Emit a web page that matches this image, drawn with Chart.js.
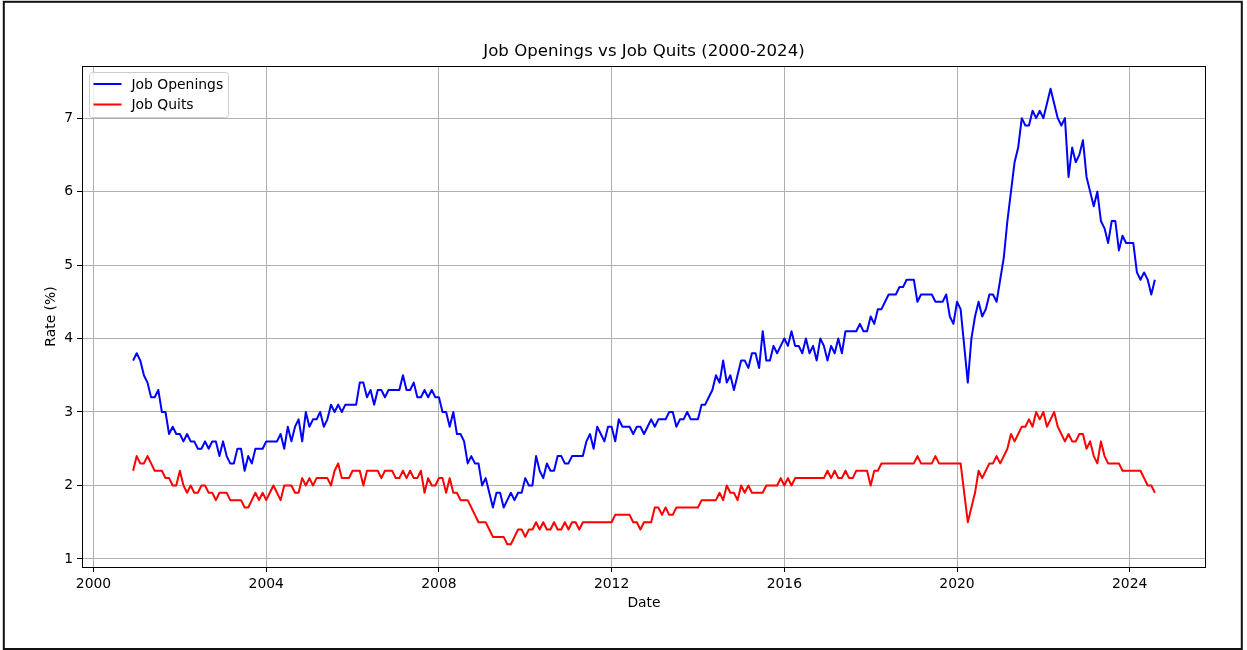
<!DOCTYPE html>
<html><head><meta charset="utf-8">
<script src="https://cdn.jsdelivr.net/npm/chart.js@4.4.1/dist/chart.umd.min.js"></script>
<style>html,body{margin:0;padding:0;background:#fff;overflow:hidden}canvas{display:block}</style>
</head><body>
<canvas id="c" width="1247" height="650" style="width:1247px;height:650px"></canvas>
<script>
// Monthly series, first value = December 2000, last value = August 2024
const startYear = 2000;
const startMonth = 12;
const jobOpenings = [
3.7,3.8,3.7,3.5,3.4,3.2,3.2,3.3,3.0,3.0,2.7,2.8,
2.7,2.7,2.6,2.7,2.6,2.6,2.5,2.5,2.6,2.5,2.6,2.6,
2.4,2.6,2.4,2.3,2.3,2.5,2.5,2.2,2.4,2.3,2.5,2.5,
2.5,2.6,2.6,2.6,2.6,2.7,2.5,2.8,2.6,2.8,2.9,2.6,
3.0,2.8,2.9,2.9,3.0,2.8,2.9,3.1,3.0,3.1,3.0,3.1,
3.1,3.1,3.1,3.4,3.4,3.2,3.3,3.1,3.3,3.3,3.2,3.3,
3.3,3.3,3.3,3.5,3.3,3.3,3.4,3.2,3.2,3.3,3.2,3.3,
3.2,3.2,3.0,3.0,2.8,3.0,2.7,2.7,2.6,2.3,2.4,2.3,
2.3,2.0,2.1,1.9,1.7,1.9,1.9,1.7,1.8,1.9,1.8,1.9,
1.9,2.1,2.0,2.0,2.4,2.2,2.1,2.3,2.2,2.2,2.4,2.4,
2.3,2.3,2.4,2.4,2.4,2.4,2.6,2.7,2.5,2.8,2.7,2.6,
2.8,2.8,2.6,2.9,2.8,2.8,2.8,2.7,2.8,2.8,2.7,2.8,
2.9,2.8,2.9,2.9,2.9,3.0,3.0,2.8,2.9,2.9,3.0,2.9,
2.9,2.9,3.1,3.1,3.2,3.3,3.5,3.4,3.7,3.4,3.5,3.3,
3.5,3.7,3.7,3.6,3.8,3.8,3.6,4.1,3.7,3.7,3.9,3.8,
3.9,4.0,3.9,4.1,3.9,3.9,3.8,4.0,3.8,3.9,3.7,4.0,
3.9,3.7,3.9,3.8,4.0,3.8,4.1,4.1,4.1,4.1,4.2,4.1,
4.1,4.3,4.2,4.4,4.4,4.5,4.6,4.6,4.6,4.7,4.7,4.8,
4.8,4.8,4.5,4.6,4.6,4.6,4.6,4.5,4.5,4.5,4.6,4.3,
4.2,4.5,4.4,3.9,3.4,4.0,4.3,4.5,4.3,4.4,4.6,4.6,
4.5,4.8,5.1,5.6,6.0,6.4,6.6,7.0,6.9,6.9,7.1,7.0,
7.1,7.0,7.2,7.4,7.2,7.0,6.9,7.0,6.2,6.6,6.4,6.5,
6.7,6.2,6.0,5.8,6.0,5.6,5.5,5.3,5.6,5.6,5.2,5.4,
5.3,5.3,5.3,4.9,4.8,4.9,4.8,4.6,4.8
];
const jobQuits = [
2.2,2.4,2.3,2.3,2.4,2.3,2.2,2.2,2.2,2.1,2.1,2.0,
2.0,2.2,2.0,1.9,2.0,1.9,1.9,2.0,2.0,1.9,1.9,1.8,
1.9,1.9,1.9,1.8,1.8,1.8,1.8,1.7,1.7,1.8,1.9,1.8,
1.9,1.8,1.9,2.0,1.9,1.8,2.0,2.0,2.0,1.9,1.9,2.1,
2.0,2.1,2.0,2.1,2.1,2.1,2.1,2.0,2.2,2.3,2.1,2.1,
2.1,2.2,2.2,2.2,2.0,2.2,2.2,2.2,2.2,2.1,2.2,2.2,
2.2,2.1,2.1,2.2,2.1,2.2,2.1,2.1,2.2,1.9,2.1,2.0,
2.0,2.1,2.1,1.9,2.1,1.9,1.9,1.8,1.8,1.8,1.7,1.6,
1.5,1.5,1.5,1.4,1.3,1.3,1.3,1.3,1.2,1.2,1.3,1.4,
1.4,1.3,1.4,1.4,1.5,1.4,1.5,1.4,1.4,1.5,1.4,1.4,
1.5,1.4,1.5,1.5,1.4,1.5,1.5,1.5,1.5,1.5,1.5,1.5,
1.5,1.5,1.6,1.6,1.6,1.6,1.6,1.5,1.5,1.4,1.5,1.5,
1.5,1.7,1.7,1.6,1.7,1.6,1.6,1.7,1.7,1.7,1.7,1.7,
1.7,1.7,1.8,1.8,1.8,1.8,1.8,1.9,1.8,2.0,1.9,1.9,
1.8,2.0,1.9,2.0,1.9,1.9,1.9,1.9,2.0,2.0,2.0,2.0,
2.1,2.0,2.1,2.0,2.1,2.1,2.1,2.1,2.1,2.1,2.1,2.1,
2.1,2.2,2.1,2.2,2.1,2.1,2.2,2.1,2.1,2.2,2.2,2.2,
2.2,2.0,2.2,2.2,2.3,2.3,2.3,2.3,2.3,2.3,2.3,2.3,
2.3,2.3,2.4,2.3,2.3,2.3,2.3,2.4,2.3,2.3,2.3,2.3,
2.3,2.3,2.3,1.9,1.5,1.7,1.9,2.2,2.1,2.2,2.3,2.3,
2.4,2.3,2.4,2.5,2.7,2.6,2.7,2.8,2.8,2.9,2.8,3.0,
2.9,3.0,2.8,2.9,3.0,2.8,2.7,2.6,2.7,2.6,2.6,2.7,
2.7,2.5,2.6,2.4,2.3,2.6,2.4,2.3,2.3,2.3,2.3,2.2,
2.2,2.2,2.2,2.2,2.2,2.1,2.0,2.0,1.9
];
const xTicks = [2000, 2004, 2008, 2012, 2016, 2020, 2024];
const yTicks = [1, 2, 3, 4, 5, 6, 7];
const seriesNames = ['Job Openings', 'Job Quits'];
const seriesColors = ['#0000ff', '#ff0000'];
const chartTitle = 'Job Openings vs Job Quits (2000-2024)';
const xTitle = 'Date';
const yTitle = 'Rate (%)';

// decimal-year position of each month
const monthX = jobOpenings.map((_, i) => startYear + (startMonth - 1 + i) / 12);
const toPoints = arr => arr.map((v, i) => ({x: monthX[i], y: v}));

const FONT = '"DejaVu Sans", sans-serif';
const AREA = {left: 82, top: 66, right: 1206, bottom: 567};

const decorPlugin = {
  id: 'decor',
  afterDatasetsDraw(chart) {
    const {ctx, chartArea: a} = chart;
    ctx.save();
    // axes frame (spines)
    ctx.strokeStyle = '#000';
    ctx.lineWidth = 1;
    ctx.strokeRect(Math.round(a.left) + 0.5, Math.round(a.top) + 0.5,
                   Math.round(a.right - a.left) - 1, Math.round(a.bottom - a.top));
    // title
    ctx.fillStyle = '#000';
    ctx.font = '16.6px ' + FONT;
    ctx.textAlign = 'center';
    ctx.textBaseline = 'alphabetic';
    ctx.fillText(chartTitle, (a.left + a.right) / 2, a.top - 10);
    // legend
    const bx = a.left + 7.5, by = a.top + 6.5, bw = 139, bh = 45, r = 3;
    ctx.beginPath();
    ctx.moveTo(bx + r, by);
    ctx.lineTo(bx + bw - r, by); ctx.quadraticCurveTo(bx + bw, by, bx + bw, by + r);
    ctx.lineTo(bx + bw, by + bh - r); ctx.quadraticCurveTo(bx + bw, by + bh, bx + bw - r, by + bh);
    ctx.lineTo(bx + r, by + bh); ctx.quadraticCurveTo(bx, by + bh, bx, by + bh - r);
    ctx.lineTo(bx, by + r); ctx.quadraticCurveTo(bx, by, bx + r, by);
    ctx.closePath();
    ctx.fillStyle = 'rgba(255,255,255,0.8)';
    ctx.fill();
    ctx.strokeStyle = '#cccccc';
    ctx.lineWidth = 1;
    ctx.stroke();
    ctx.font = '13.9px ' + FONT;
    ctx.textAlign = 'left';
    ctx.textBaseline = 'middle';
    chart.data.datasets.forEach((ds, k) => {
      const y = by + 11.5 + k * 20.5;
      ctx.strokeStyle = ds.borderColor;
      ctx.lineWidth = 2;
      ctx.beginPath();
      ctx.moveTo(bx + 4, y); ctx.lineTo(bx + 32, y);
      ctx.stroke();
      ctx.fillStyle = '#000';
      ctx.fillText(ds.label, bx + 42, y + 1);
    });
    ctx.restore();
  },
  afterDraw(chart) {
    const {ctx} = chart;
    ctx.save();
    ctx.strokeStyle = '#111';
    ctx.lineWidth = 2;
    ctx.strokeRect(3.8, 1.8, 1238, 647.2);
    ctx.restore();
  }
};

new Chart(document.getElementById('c'), {
  type: 'line',
  data: {
    datasets: [
      {label: seriesNames[0], data: toPoints(jobOpenings), borderColor: seriesColors[0], backgroundColor: seriesColors[0]},
      {label: seriesNames[1], data: toPoints(jobQuits), borderColor: seriesColors[1], backgroundColor: seriesColors[1]}
    ]
  },
  options: {
    responsive: false,
    animation: false,
    devicePixelRatio: 1,
    parsing: false,
    layout: {padding: {left: 0, top: AREA.top, right: 1247 - AREA.right, bottom: 0}},
    elements: {
      line: {borderWidth: 2, tension: 0, borderJoinStyle: 'round', borderCapStyle: 'butt'},
      point: {radius: 0, hoverRadius: 0}
    },
    plugins: {legend: {display: false}, title: {display: false}, tooltip: {enabled: false}},
    scales: {
      x: {
        type: 'linear',
        min: 1999.733, max: 2025.767,
        afterFit: s => { s.height = 650 - AREA.bottom; },
        afterBuildTicks: s => { s.ticks = xTicks.map(v => ({value: v})); },
        ticks: {color: '#000', font: {family: FONT, size: 13.9}, padding: 4, maxRotation: 0, autoSkip: false,
                callback: v => String(v)},
        grid: {color: '#b0b0b0', lineWidth: 1, tickColor: '#000', tickLength: 5, tickWidth: 1},
        border: {display: false},
        title: {display: true, text: xTitle, color: '#000', font: {family: FONT, size: 13.9}, padding: {top: 0, bottom: 38}}
      },
      y: {
        type: 'linear',
        min: 0.89, max: 7.71,
        afterFit: s => { s.width = AREA.left; },
        afterBuildTicks: s => { s.ticks = yTicks.map(v => ({value: v})); },
        ticks: {color: '#000', font: {family: FONT, size: 13.9}, padding: 4, callback: v => String(v)},
        grid: {color: '#b0b0b0', lineWidth: 1, tickColor: '#000', tickLength: 5, tickWidth: 1},
        border: {display: false},
        title: {display: true, text: yTitle, color: '#000', font: {family: FONT, size: 13.9}, padding: {top: 43, bottom: 0}}
      }
    }
  },
  plugins: [decorPlugin]
});
</script>
</body></html>
